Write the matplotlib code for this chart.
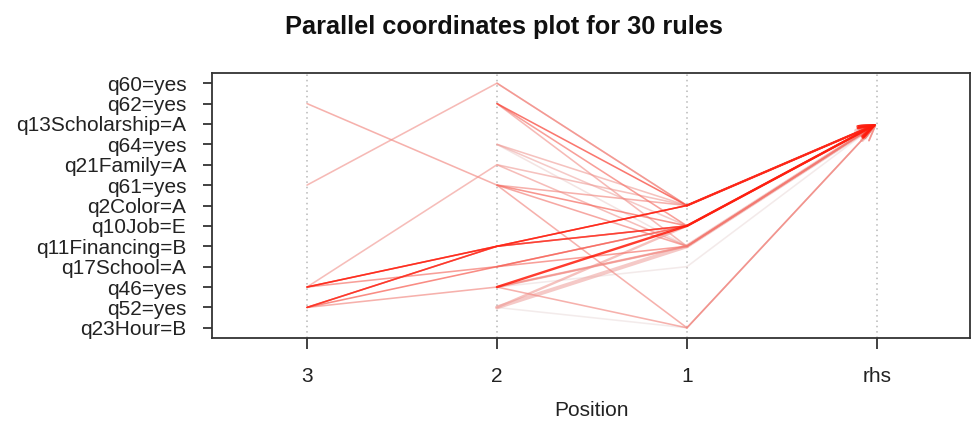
import matplotlib
matplotlib.use("Agg")
import matplotlib.pyplot as plt
import numpy as np
from matplotlib.colors import to_rgb

# ---- data ----
items = ["q23Hour=B", "q52=yes", "q46=yes", "q17School=A", "q11Financing=B",
         "q10Job=E", "q2Color=A", "q61=yes", "q21Family=A", "q64=yes",
         "q13Scholarship=A", "q62=yes", "q60=yes"]          # bottom -> top
positions = ["3", "2", "1", "rhs"]
rhs_item = "q13Scholarship=A"

# LHS of each rule, ordered from position 3 (or 2, or 1) to position 1
rules_lhs = [
    ["q62=yes", "q61=yes", "q23Hour=B"],
    ["q61=yes", "q60=yes", "q2Color=A"],
    ["q46=yes", "q21Family=A", "q11Financing=B"],
    ["q46=yes", "q11Financing=B", "q2Color=A"],
    ["q46=yes", "q11Financing=B", "q10Job=E"],
    ["q52=yes", "q11Financing=B", "q2Color=A"],
    ["q52=yes", "q11Financing=B", "q10Job=E"],
    ["q52=yes", "q17School=A", "q10Job=E"],
    ["q46=yes", "q17School=A", "q11Financing=B"],
    ["q52=yes", "q46=yes", "q11Financing=B"],
    ["q60=yes", "q2Color=A"],
    ["q62=yes", "q2Color=A"],
    ["q62=yes", "q10Job=E"],
    ["q62=yes", "q11Financing=B"],
    ["q64=yes", "q2Color=A"],
    ["q64=yes", "q10Job=E"],
    ["q64=yes", "q11Financing=B"],
    ["q21Family=A", "q2Color=A"],
    ["q61=yes", "q10Job=E"],
    ["q61=yes", "q11Financing=B"],
    ["q61=yes", "q2Color=A"],
    ["q46=yes", "q10Job=E"],
    ["q46=yes", "q11Financing=B"],
    ["q46=yes", "q23Hour=B"],
    ["q46=yes", "q17School=A"],
    ["q52=yes", "q11Financing=B"],
    ["q52=yes", "q10Job=E"],
    ["q52=yes", "q23Hour=B"],
    ["q17School=A", "q10Job=E"],
    ["q2Color=A"],
]
# colour intensity (lift, scaled) and width (support, scaled) per rule
lift = [0.45, 0.40, 0.38, 0.95, 0.85, 0.90, 0.80, 0.65, 0.55, 0.45,
        0.45, 0.75, 0.55, 0.40, 0.35, 0.30, 0.12, 0.35, 0.60, 0.50,
        0.45, 1.00, 0.40, 0.45, 0.06, 0.30, 0.35, 0.05, 0.55, 0.90]
support = [1, 1, 1, 1, 1, 1, 1, 1, 1, 1,
           1, 1, 1, 1, 1, 1, 1, 1, 1, 1,
           1, 1.5, 1.5, 1, 1, 2.5, 1.5, 1, 1, 1.5]

# ---- figure ----
fig = plt.figure(figsize=(9.72, 4.25), dpi=100)
ax = fig.add_axes([212/972, 1-338/425, (970-212)/972, (338-73)/425])

ypos = {name: i for i, name in enumerate(items)}
xpos = {p: i + 1 for i, p in enumerate(positions)}

lo = np.array(to_rgb("#e8e4e4"))
hi = np.array(to_rgb("#ff1a0a"))

for x in range(1, len(positions) + 1):
    ax.axvline(x, color="#b8b8b8", lw=1.1, ls=(0, (1, 2.5)), zorder=0)

order = np.argsort(lift)
for k in order:
    lhs = rules_lhs[k]
    t = lift[k]
    col = tuple(lo + (hi - lo) * t)
    alpha = 0.5 + 0.35 * t
    lw = 1.15 * support[k]
    n = len(lhs)
    xs = [xpos[str(n - j)] for j in range(n)]
    ys = [ypos[it] for it in lhs]
    ax.plot(xs, ys, color=col, alpha=alpha, lw=lw, solid_capstyle="round",
            solid_joinstyle="round", zorder=2 + t)
    ax.annotate("", xy=(xpos["rhs"], ypos[rhs_item]), xytext=(xs[-1], ys[-1]),
                arrowprops=dict(arrowstyle="->,head_length=1.1,head_width=0.4",
                                color=col, alpha=alpha, lw=lw,
                                shrinkA=0, shrinkB=0),
                zorder=2 + t)

ax.set_xlim(0.5, 4.49)
ax.set_ylim(-0.5, 12.5)
ax.set_xticks(range(1, 5))
ax.set_xticklabels(positions)
ax.set_yticks(range(len(items)))
ax.set_yticklabels(items)

fam = ["Liberation Sans", "DejaVu Sans"]
for lab in ax.get_xticklabels() + ax.get_yticklabels():
    lab.set_fontfamily(fam)
    lab.set_fontsize(15)
    lab.set_color("#222222")
ax.tick_params(axis="y", length=6.5, width=1.3, pad=12, color="#333333")
ax.tick_params(axis="x", length=8, width=1.3, pad=13, color="#333333")
for s in ax.spines.values():
    s.set_color("#333333")
    s.set_linewidth(1.3)

fig.text(504/972, 1-27/425, "Parallel coordinates plot for 30 rules",
         ha="center", va="center", fontsize=18.3, fontweight="bold",
         family=fam, color="#111111")
fig.text(591/972, 1-411/425, "Position", ha="center", va="center",
         fontsize=15, family=fam, color="#222222")

fig.savefig("out.png", dpi=100)
